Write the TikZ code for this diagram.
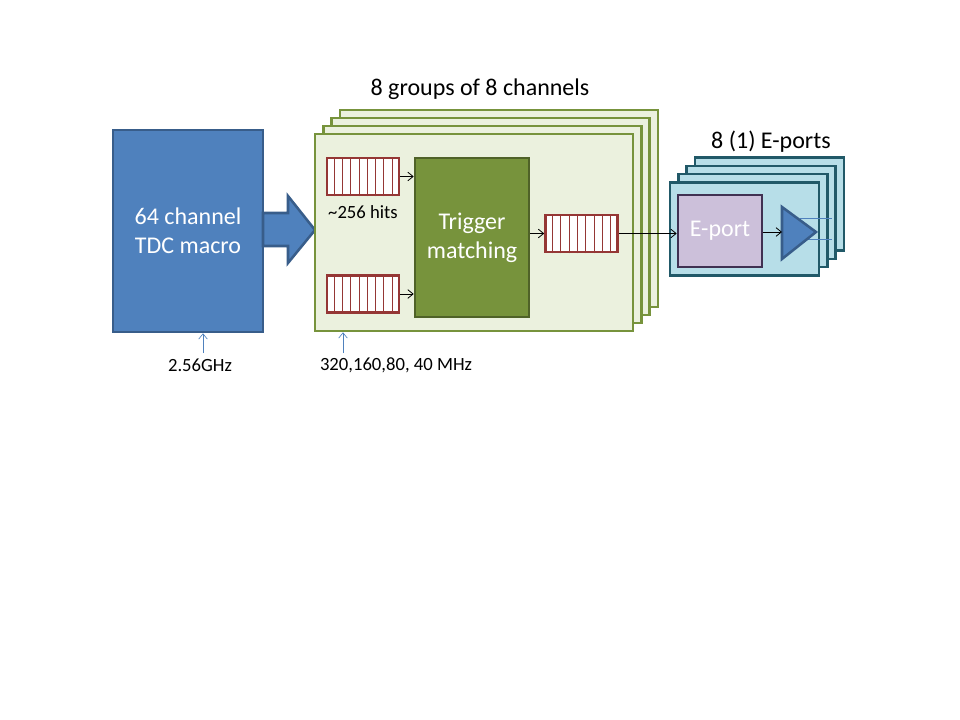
\documentclass[tikz,border=0pt]{standalone}
\usepackage{fontspec}
\setmainfont{Carlito}
\usetikzlibrary{calc,arrows.meta}

\definecolor{tdcblue}{HTML}{4F81BD}
\definecolor{tdcedge}{HTML}{385D8A}
\definecolor{grplight}{HTML}{EBF1DE}
\definecolor{grpedge}{HTML}{77933C}
\definecolor{trigfill}{HTML}{77933C}
\definecolor{trigedge}{HTML}{4F6228}
\definecolor{fifoedge}{HTML}{953735}
\definecolor{portfill}{HTML}{B7DEE8}
\definecolor{portedge}{HTML}{215968}
\definecolor{epfill}{HTML}{CCC0DA}
\definecolor{epedge}{HTML}{403152}

\begin{document}
\begin{tikzpicture}[x=0.75pt,y=-0.75pt,
  box/.style={draw,line width=1.9pt,inner sep=0pt},
  grpbox/.style={box,fill=grplight,draw=grpedge,minimum width=238.5pt,minimum height=147.75pt},
  portbox/.style={box,fill=portfill,draw=portedge,minimum width=111.75pt,minimum height=69.75pt},
  fifo/.style={box,fill=white,draw=fifoedge,minimum width=54pt,minimum height=27.75pt},
  bigtext/.style={font=\fontsize{18}{21.6}\selectfont,text=white,align=center},
  lbl/.style={font=\fontsize{18}{21.6}\selectfont},
  small/.style={font=\fontsize{14}{16}\selectfont},
  conn/.style={-{Straight Barb[length=4pt,width=6.5pt]},line width=0.6pt},
  clk/.style={-{Straight Barb[length=4pt,width=6.5pt]},line width=0.5pt,draw=tdcblue}]
\useasboundingbox (0,0) rectangle (960,720);

% TDC macro
\node[box,fill=tdcblue,draw=tdcedge,minimum width=112.5pt,minimum height=151.5pt,bigtext]
  (tdc) at (188,231) {64 channel\\TDC macro};

% big arrow into the groups
\draw[fill=tdcblue,draw=tdcedge,line width=1.9pt,line join=miter]
  (263,213) -- (288,213) -- (288,196) -- (315,230) -- (288,263) -- (288,246) -- (263,246) -- cycle;

% stack of channel groups
\foreach \i in {3,2,1}
  \node[grpbox] at ({474+8.3*\i},{232.5-8*\i}) {};
\node[grpbox] (grp) at (474,232.5) {};
\node[lbl] (grptitle) at (480,89) {8 groups of 8 channels};

% trigger matching
\node[box,fill=trigfill,draw=trigedge,minimum width=85.5pt,minimum height=119.25pt,bigtext]
  (trig) at (472,237.5) {Trigger\\matching};

% fifos
\node[fifo] (fifoA) at (363,176.5) {};
\node[fifo] (fifoB) at (363,294) {};
\node[fifo] (fifoC) at (581.5,233.5) {};
\foreach \f in {fifoA,fifoB,fifoC}
  \foreach \k in {1,...,8}
    \draw[fifoedge,line width=0.5pt]
      ($(\f.south west)!\k/9!(\f.south east)$) -- ($(\f.north west)!\k/9!(\f.north east)$);
\node[font=\fontsize{14}{16}\selectfont] (hits) at (363,212) {\textasciitilde256 hits};

\draw[conn] (fifoA.east) -- (fifoA.east -| trig.west);
\draw[conn] (fifoB.east) -- (fifoB.east -| trig.west);
\draw[conn] (fifoC.west -| trig.east) -- (fifoC.west);

% E-ports
\foreach \i in {3,2,1}
  \node[portbox] at ({744.5+8.3*\i},{229-8.3*\i}) {};
\node[portbox] (port) at (744.5,229) {};
\node[lbl] (porttitle) at (771,142) {8 (1) E-ports};
\node[box,fill=epfill,draw=epedge,minimum width=63pt,minimum height=54pt,bigtext]
  (eport) at (720,231) {E-port};

\draw[tdcblue,line width=0.6pt] (800,218) -- (832,218);
\draw[tdcblue,line width=0.6pt] (800,239) -- (832,239);
\draw[fill=tdcblue,draw=tdcedge,line width=1.9pt,line join=miter]
  (782,207) -- (816,232) -- (782,259) -- cycle;
\coordinate (drv) at (782,232);

\draw[conn] (fifoC.east) -- (fifoC.east -| eport.west);
\draw[conn] (eport.east |- drv) -- (drv);

% clocks
\coordinate (clkA) at (203,353);
\coordinate (clkB) at (343,353);
\draw[clk] (clkA) -- (clkA |- tdc.south);
\draw[clk] (clkB) -- (clkB |- grp.south);
\node[small] (fA) at (200,365) {2.56GHz};
\node[small] (fB) at (396,365) {320,160,80, 40 MHz};
\end{tikzpicture}
\end{document}
